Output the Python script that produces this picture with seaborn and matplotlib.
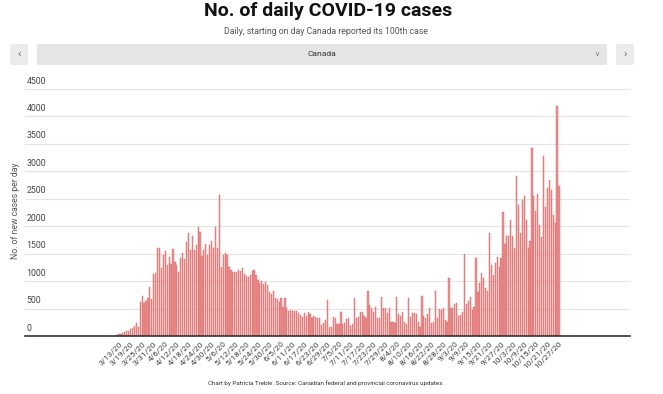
# ------------------------------
# DAILY COVID-19 CASES - CANADA
# ------------------------------

import numpy as np
import pandas as pd
import matplotlib.pyplot as plt
from matplotlib.patches import FancyBboxPatch
import seaborn as sns

# ------------------------------
# DATA
# ------------------------------

start_date = "2020-03-12"

cases = [
    15, 30, 40, 55, 70, 85, 100, 130, 150, 190, 240, 160,
    620, 720, 610, 630, 700, 900, 670, 1130, 1140, 1610,
    1600, 1240, 1480, 1550, 1300, 1440, 1310, 1580, 1340, 1300,
    1160, 1420, 1510, 1400, 1720, 1880, 1570, 1830, 1570, 1650,
    1990, 1890, 1450, 1570, 1680, 1470, 1650, 1740, 1610, 1990,
    1610, 2575,
    1265, 1478, 1508, 1478, 1265, 1204, 1161, 1161, 1161, 1204,
    1186, 1235, 1125, 1100, 1083, 1110, 1186, 1204, 1113, 1022,
    960, 1004, 943, 992, 931, 809, 761, 821, 687, 676,
    627, 687, 536, 687, 505, 456, 475,
    456, 456, 456, 420, 383, 353, 414, 371, 444, 395,
    335, 365, 353, 323, 323, 200, 231, 292, 657, 170,
    170, 353, 323, 213, 213, 430, 213, 231, 304, 323,
    188, 213, 687, 323, 353, 444, 430, 365, 323, 821,
    566, 517, 444, 535, 335, 323, 718,
    505, 505, 414, 505, 262, 262, 231, 710, 395, 371,
    432, 262, 219, 700, 353, 414, 414, 395, 250, 170, 736,
    360, 330, 400, 517, 243, 250, 815, 323, 487, 475,
    505, 292, 262, 1050, 505, 505, 584, 608, 365, 384,
    444, 1490, 584, 644, 718, 475, 535, 1416, 797, 961,
    1156, 1053, 870, 827, 1870, 1296, 1113, 1338, 1448, 1253,
    1417, 2256, 1679, 1813, 1825, 2117, 1813, 1600, 2920, 2391,
    1874, 2470, 2543, 2117, 1600, 1740, 3422, 2555, 2269, 2585,
    2026, 1801, 3285, 2342, 2695, 2847, 2665, 2208, 2056, 4185,
    2737,
]

y_ticks = [0, 500, 1000, 1500, 2000, 2500, 3000, 3500, 4000, 4500]

dates = pd.date_range(start_date, periods=len(cases))
df = pd.DataFrame({"day": np.arange(len(cases)), "cases": cases})

tick_pos = df["day"].values[1::6]
tick_labels = [f"{d.month}/{d.day}/20" for d in dates[1::6]]

# ------------------------------
# FIGURE
# ------------------------------

sns.set_theme(style="white")
plt.rcParams["font.family"] = ["Roboto", "DejaVu Sans"]

W, H = 663, 394
fig = plt.figure(figsize=(W / 100, H / 100), dpi=100)

ax = fig.add_axes([25 / W, 58 / H, 605 / W, 250 / H])

sns.barplot(
    data=df,
    x="day",
    y="cases",
    native_scale=True,
    color="#eb9292",
    saturation=1,
    edgecolor="#dc6262",
    linewidth=0.3,
    width=0.62,
    ax=ax
)

ax.set_xlim(-47.7, 265.8)
ax.set_ylim(0, 4555)

# grid
ax.set_yticks(y_ticks)
ax.set_yticklabels([])
ax.yaxis.grid(True, color="#e4e4e4", linewidth=0.8)
ax.set_axisbelow(True)
ax.tick_params(axis="y", length=0)

for v in y_ticks:
    ax.annotate(
        str(v),
        xy=(0, v),
        xycoords=ax.get_yaxis_transform(),
        xytext=(1, 2.5),
        textcoords="offset points",
        fontsize=6.3,
        color="#444444",
        ha="left",
        va="bottom"
    )

for s in ["top", "right", "left"]:
    ax.spines[s].set_visible(False)
ax.spines["bottom"].set_color("#333333")
ax.spines["bottom"].set_linewidth(1.2)

ax.set_xticks(tick_pos)
ax.set_xticklabels(
    tick_labels,
    rotation=45,
    ha="right",
    rotation_mode="anchor",
    fontsize=6,
    color="#444444"
)
ax.tick_params(axis="x", length=0, pad=3)

ax.set_xlabel("")
ax.set_ylabel("No. of new cases per day", fontsize=6.2, color="#555555")
ax.yaxis.set_label_coords(-0.009, 0.5)

# ------------------------------
# TITLES
# ------------------------------

fig.text(
    328 / W, 1 - 11 / H,
    "No. of daily COVID-19 cases",
    fontsize=14,
    fontweight="bold",
    family=["Liberation Sans Narrow", "Roboto", "DejaVu Sans"],
    color="#111111",
    ha="center",
    va="center"
)

fig.text(
    326 / W, 1 - 32 / H,
    "Daily, starting on day Canada reported its 100th case",
    fontsize=6.3,
    color="#555555",
    ha="center",
    va="center"
)

# ------------------------------
# DROPDOWN
# ------------------------------

def box(x0, x1, color):
    p = FancyBboxPatch(
        (x0 / W, 1 - 65 / H),
        (x1 - x0) / W,
        21 / H,
        boxstyle="round,pad=0,rounding_size=0.004",
        transform=fig.transFigure,
        facecolor=color,
        edgecolor="none"
    )
    fig.add_artist(p)

box(10, 28, "#ebebeb")
box(37, 607, "#e5e5e5")
box(616, 634, "#ebebeb")

fig.text(19 / W, 1 - 54.5 / H, "‹", fontsize=8, color="#666666", ha="center", va="center")
fig.text(625 / W, 1 - 54.5 / H, "›", fontsize=8, color="#666666", ha="center", va="center")
fig.text(322 / W, 1 - 54.5 / H, "Canada", fontsize=6, color="#333333", ha="center", va="center")
fig.text(597 / W, 1 - 54.5 / H, "∨", fontsize=5, color="#777777", ha="center", va="center",
         family=["DejaVu Sans"])

# ------------------------------
# FOOTER
# ------------------------------

fig.text(
    325 / W, 1 - 383 / H,
    "Chart by Patricia Treble. Source: Canadian federal and provincial coronavirus updates",
    fontsize=4.5,
    color="#333333",
    ha="center",
    va="center"
)

fig.savefig("out.png", dpi=100, facecolor="white")
